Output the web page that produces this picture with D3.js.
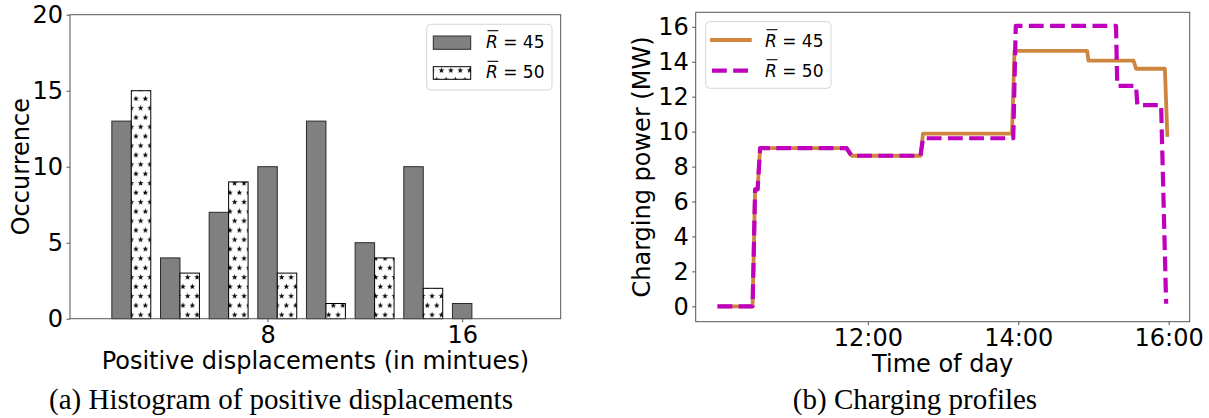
<!DOCTYPE html>
<html><head><meta charset="utf-8">
<script src="https://cdn.jsdelivr.net/npm/d3@7"></script>
<style>
body{margin:0;background:#fff}
svg{display:block}
text{font-family:"DejaVu Sans",sans-serif;fill:#000}
</style>
</head><body>
<svg id="chart" width="1209" height="418"></svg>
<script>
// ---------- data: histogram (a) ----------
const binEdges = [1.4, 3.4, 5.4, 7.4, 9.4, 11.4, 13.4, 15.4, 17.4];
const occurrence45 = [13, 4, 7, 10, 13, 5, 10, 1];
const occurrence50 = [15, 3, 9, 3, 1, 4, 2, 0];
const histXTicks = [8, 16];
const histYTicks = [0, 5, 10, 15, 20];
const seriesNames = ["45", "50"];

// ---------- data: charging profiles (b) ----------
const time45  = ["10:00","10:28","10:30","10:32","10:34","11:43","11:47","12:42","12:44","13:55","13:57","14:55","14:56","15:32","15:34","15:57","15:59"];
const power45 = [0, 0, 6.7, 6.7, 9.05, 9.05, 8.62, 8.62, 9.88, 9.88, 14.62, 14.62, 14.06, 14.06, 13.6, 13.6, 9.7];
const time50  = ["10:00","10:28","10:30","10:32","10:34","11:43","11:47","12:42","12:44","13:56","13:58","15:18","15:19","15:34","15:35","15:54","15:58"];
const power50 = [0, 0, 6.7, 6.7, 9.05, 9.05, 8.62, 8.62, 9.62, 9.62, 16.05, 16.05, 12.62, 12.62, 11.52, 11.52, 0.15];
const timeTicks = ["12:00", "14:00", "16:00"];
const powerTicks = [0, 2, 4, 6, 8, 10, 12, 14, 16];

const captions = ["(a) Histogram of positive displacements", "(b) Charging profiles"];

// ---------- helpers ----------
const svg = d3.select("#chart");
const FS = 24;
const SPINE = "#555";
const hours = s => { const [h, m] = s.split(":").map(Number); return h + m / 60; };

const defs = svg.append("defs");
const pat = defs.append("pattern").attr("id", "stars")
  .attr("patternUnits", "userSpaceOnUse").attr("width", 9.4).attr("height", 18.8)
  .attr("x", 2).attr("y", 0);
pat.append("rect").attr("width", 9.4).attr("height", 18.8).attr("fill", "#fff");
const starPath = d3.symbol(d3.symbolStar, 11)();
[[2.35, 4.7], [7.05, 14.1], [-2.35, 14.1], [11.75, 14.1], [2.35, 23.5], [2.35, -4.7], [7.05, -4.7], [-2.35, -4.7]].forEach(([x, y]) =>
  pat.append("path").attr("d", starPath).attr("transform", `translate(${x},${y})`).attr("fill", "#000"));

function styleAxis(g) {
  g.select(".domain").remove();
  g.selectAll(".tick line").attr("stroke", SPINE);
  g.selectAll(".tick text").style("font-size", FS + "px").style("font-family", "DejaVu Sans").attr("fill", "#000");
}

function rbarLabel(g, x, y, num) {
  const fs = 17;
  const t = g.append("text").attr("x", x).attr("y", y).style("font-size", fs + "px");
  const r = t.append("tspan").style("font-style", "italic").text("R");
  t.append("tspan").text(" = " + num);
  const w = r.node().getComputedTextLength();
  g.append("line").attr("x1", x + 1.5).attr("x2", x + w + 0.5)
    .attr("y1", y - fs * 1.0).attr("y2", y - fs * 1.0)
    .attr("stroke", "#000").attr("stroke-width", 1.1);
}

// ================= (a) histogram =================
const A = {l: 70, r: 560.7, t: 14.7, b: 318.7};
const xa = d3.scaleLinear().domain([-0.12, 20.05]).range([A.l, A.r]);
const ya = d3.scaleLinear().domain([0, 20]).range([A.b, A.t]);
const ga = svg.append("g");

const bins = occurrence45.map((v, i) => ({
  x0: binEdges[i], x1: binEdges[i + 1], a: v, b: occurrence50[i]
}));
bins.forEach(d => {
  const w = d.x1 - d.x0;
  const bw = w * 0.4;
  const s = d.x0 + w * 0.1;
  if (d.a > 0) ga.append("rect")
    .attr("x", xa(s)).attr("width", xa(s + bw) - xa(s))
    .attr("y", ya(d.a)).attr("height", ya(0) - ya(d.a))
    .attr("fill", "#808080").attr("stroke", "#2a2a2a").attr("stroke-width", 1);
  if (d.b > 0) ga.append("rect")
    .attr("x", xa(s + bw)).attr("width", xa(s + 2 * bw) - xa(s + bw))
    .attr("y", ya(d.b)).attr("height", ya(0) - ya(d.b))
    .attr("fill", "url(#stars)").attr("stroke", "#000").attr("stroke-width", 1);
});

ga.append("g").attr("transform", `translate(${A.l},0)`)
  .call(d3.axisLeft(ya).tickValues(histYTicks).tickFormat(d3.format("d")).tickSize(3.5).tickPadding(3.5))
  .call(styleAxis);
ga.append("g").attr("transform", `translate(0,${A.b})`)
  .call(d3.axisBottom(xa).tickValues(histXTicks).tickFormat(d3.format("d")).tickSize(3.5).tickPadding(3.5))
  .call(styleAxis);
ga.append("rect").attr("x", A.l).attr("y", A.t).attr("width", A.r - A.l).attr("height", A.b - A.t)
  .attr("fill", "none").attr("stroke", SPINE).attr("stroke-width", 1);

ga.append("text").attr("transform", `translate(28.5,${(A.t + A.b) / 2}) rotate(-90)`)
  .attr("text-anchor", "middle").style("font-size", FS + "px").text("Occurrence");
ga.append("text").attr("x", (A.l + A.r) / 2).attr("y", 369)
  .attr("text-anchor", "middle").style("font-size", FS + "px").text("Positive displacements (in mintues)");

// legend (a)
const la = ga.append("g");
la.append("rect").attr("x", 426.7).attr("y", 24.3).attr("width", 125.3).attr("height", 65.7)
  .attr("rx", 4).attr("fill", "#fff").attr("fill-opacity", 0.8).attr("stroke", "#d6d6d6").attr("stroke-width", 1);
la.append("rect").attr("x", 433.3).attr("y", 36).attr("width", 37.4).attr("height", 13.3)
  .attr("fill", "#808080").attr("stroke", "#2a2a2a");
la.append("rect").attr("x", 433.3).attr("y", 66.7).attr("width", 37.4).attr("height", 12.6)
  .attr("fill", "url(#stars)").attr("stroke", "#000");
rbarLabel(la, 486, 47.7, seriesNames[0]);
rbarLabel(la, 486, 78.3, seriesNames[1]);

// ================= (b) charging profiles =================
const B = {l: 695.7, r: 1189.7, t: 12.3, b: 321.7};
const xb = d3.scaleLinear().domain([9.71, 16.28]).range([B.l, B.r]);
const yb = d3.scaleLinear().domain([-0.88, 16.83]).range([B.b, B.t]);
const gb = svg.append("g");

const line = d3.line().x(d => xb(d[0])).y(d => yb(d[1]));
const pts45 = time45.map((t, i) => [hours(t), power45[i]]);
const pts50 = time50.map((t, i) => [hours(t), power50[i]]);
gb.append("path").attr("d", line(pts45)).attr("fill", "none")
  .attr("stroke", "#CD853F").attr("stroke-width", 3.8).attr("stroke-linejoin", "round");
gb.append("path").attr("d", line(pts50)).attr("fill", "none")
  .attr("stroke", "#BF00BF").attr("stroke-width", 4.2).attr("stroke-dasharray", "14.8,6.4")
  .attr("stroke-linejoin", "round");

gb.append("g").attr("transform", `translate(${B.l},0)`)
  .call(d3.axisLeft(yb).tickValues(powerTicks).tickFormat(d3.format("d")).tickSize(3.5).tickPadding(3.5))
  .call(styleAxis);
gb.append("g").attr("transform", `translate(0,${B.b})`)
  .call(d3.axisBottom(xb).tickValues(timeTicks.map(hours))
    .tickFormat((d, i) => timeTicks[i]).tickSize(3.5).tickPadding(3.5))
  .call(styleAxis);
gb.append("rect").attr("x", B.l).attr("y", B.t).attr("width", B.r - B.l).attr("height", B.b - B.t)
  .attr("fill", "none").attr("stroke", SPINE).attr("stroke-width", 1);

gb.append("text").attr("transform", `translate(650,${(B.t + B.b) / 2}) rotate(-90)`)
  .attr("text-anchor", "middle").style("font-size", FS + "px").text("Charging power (MW)");
gb.append("text").attr("x", (B.l + B.r) / 2).attr("y", 372)
  .attr("text-anchor", "middle").style("font-size", FS + "px").text("Time of day");

// legend (b)
const lb = gb.append("g");
lb.append("rect").attr("x", 705.7).attr("y", 21.7).attr("width", 125.3).attr("height", 66.6)
  .attr("rx", 4).attr("fill", "#fff").attr("fill-opacity", 0.8).attr("stroke", "#d6d6d6").attr("stroke-width", 1);
lb.append("line").attr("x1", 710).attr("x2", 751.7).attr("y1", 40).attr("y2", 40)
  .attr("stroke", "#CD853F").attr("stroke-width", 3.8);
lb.append("line").attr("x1", 712).attr("x2", 751.7).attr("y1", 70.7).attr("y2", 70.7)
  .attr("stroke", "#BF00BF").attr("stroke-width", 4.2).attr("stroke-dasharray", "14.8,6.4");
rbarLabel(lb, 765, 46.7, seriesNames[0]);
rbarLabel(lb, 765, 76.7, seriesNames[1]);

// ---------- captions ----------
[[281, captions[0]], [915, captions[1]]].forEach(([x, t]) =>
  svg.append("text").attr("x", x).attr("y", 409).attr("text-anchor", "middle")
    .style("font-family", "'Liberation Serif', serif").style("font-size", "29px").text(t));
</script>
</body></html>
